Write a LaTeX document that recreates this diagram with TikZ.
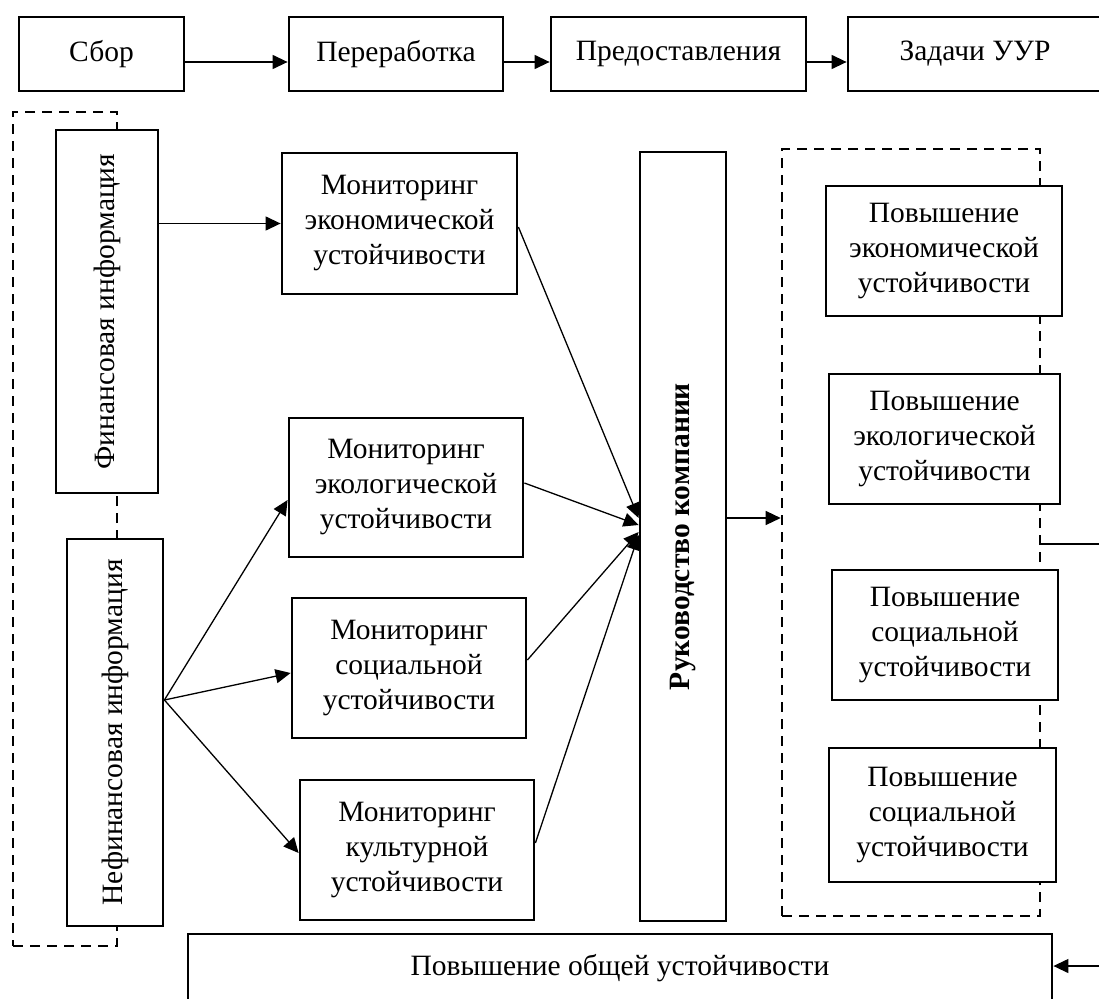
\documentclass[tikz,border=0pt]{standalone}
\usepackage{fontspec}
\setmainfont{Liberation Serif}
\usepackage{tikz}
\usetikzlibrary{arrows.meta}
\tikzset{
	blok/.style={draw, line width=2.8pt, fill=white, align=center, inner sep=0pt},
	grupa/.style={draw, line width=2.6pt, dash pattern=on 10pt off 7pt, inner sep=0pt},
	strelka/.style={line width=1.3pt, -{Triangle[length=15pt,width=14pt]}}
}

\begin{document}
\begin{tikzpicture}[x=1pt, y=-1pt, font=\fontsize{29.5}{35}\selectfont]
	\useasboundingbox (0,0) rectangle (1099,998);
	\node[grupa, minimum width=104pt, minimum height=834pt] (info) at (65,529) {};
	\node[grupa, minimum width=258pt, minimum height=767pt] (zad) at (911,532.5) {};

	\node[blok, minimum width=165pt, minimum height=74pt] (sbor) at (101.5,54) {Сбор};
	\node[blok, minimum width=214pt, minimum height=74pt] (pererab) at (396,54) {Переработка};
	\node[blok, minimum width=255pt, minimum height=74pt] (predost) at (678.5,54) {Предоставления};
	\node[blok, minimum width=254pt, minimum height=74pt] (uur) at (975,54) {Задачи УУР};
	\draw[strelka] ([yshift=-8pt]sbor.east) -- ([yshift=-8pt]pererab.west);
	\draw[strelka] ([yshift=-8pt]pererab.east) -- ([yshift=-8pt]predost.west);
	\draw[strelka] ([yshift=-8pt]predost.east) -- ([yshift=-8pt]uur.west);

	\node[blok, minimum width=102pt, minimum height=363pt] (fin) at (107,311.5)
		{\rotatebox{90}{Финансовая информация}};
	\node[blok, minimum width=96pt, minimum height=387pt] (nefin) at (115,732.5)
		{\rotatebox{90}{Нефинансовая информация}};

	\node[blok, minimum width=235pt, minimum height=141pt] (mon1) at (399.5,223.5)
		{Мониторинг\\экономической\\устойчивости};
	\node[blok, minimum width=234pt, minimum height=139pt] (mon2) at (406,487.5)
		{Мониторинг\\экологической\\устойчивости};
	\node[blok, minimum width=234pt, minimum height=140pt] (mon3) at (409,668)
		{Мониторинг\\социальной\\устойчивости};
	\node[blok, minimum width=234pt, minimum height=140pt] (mon4) at (417,850)
		{Мониторинг\\культурной\\устойчивости};

	\node[blok, minimum width=86pt, minimum height=769pt] (ruk) at (683,536.5)
		{\rotatebox{90}{\bfseries Руководство компании}};

	\node[blok, minimum width=236pt, minimum height=130pt] (pov1) at (944,251)
		{Повышение\\экономической\\устойчивости};
	\node[blok, minimum width=231pt, minimum height=130pt] (pov2) at (944.5,439)
		{Повышение\\экологической\\устойчивости};
	\node[blok, minimum width=226pt, minimum height=130pt] (pov3) at (945,635)
		{Повышение\\социальной\\устойчивости};
	\node[blok, minimum width=227pt, minimum height=134pt] (pov4) at (942.5,815)
		{Повышение\\социальной\\устойчивости};

	\node[blok, minimum width=864pt, minimum height=68pt] (obsh) at (620,968)
		{Повышение общей устойчивости};

	\draw[strelka] (fin.east |- mon1.west) -- (mon1.west);
	\foreach \m/\s in {mon2/-12.5pt, mon3/-5pt, mon4/-3pt}
		\draw[strelka] ([yshift=32.5pt]nefin.east) -- ([yshift=\s]\m.west);
	\draw[strelka] ([yshift=-3.5pt]mon1.east) -- ([yshift=18.5pt]ruk.west);
	\draw[strelka] ([yshift=4.5pt]mon2.east) -- ([yshift=11.5pt]ruk.west);
	\draw[strelka] ([yshift=8pt]mon3.east) -- ([yshift=4.5pt]ruk.west);
	\draw[strelka] ([yshift=7pt]mon4.east) -- ([yshift=1.5pt]ruk.west);
	\draw[strelka] ([yshift=18.5pt]ruk.east) -- ([yshift=14.5pt]zad.west);

	\coordinate (obhod) at (1130,750);
	\draw[strelka] ([yshift=-11.5pt]zad.east) -| (obhod) |- ([yshift=2pt]obsh.east);
\end{tikzpicture}
\end{document}
